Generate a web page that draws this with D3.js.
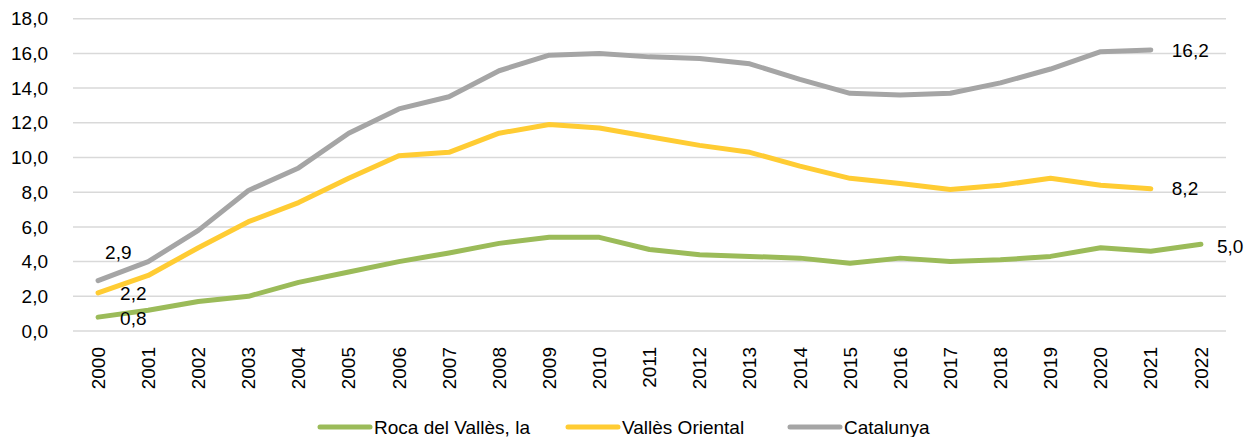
<!DOCTYPE html>
<html>
<head>
<meta charset="utf-8">
<script src="https://cdn.jsdelivr.net/npm/d3@7"></script>
<style>
  body { margin: 0; background: #fff; }
  text { font-family: "Liberation Sans", Arial, sans-serif; fill: #000; }
</style>
</head>
<body>
<svg id="chart" width="1247" height="437"></svg>
<script>
// data
const years = d3.range(2000, 2023).map(String);
const yTicks = [0, 2, 4, 6, 8, 10, 12, 14, 16, 18];
const roca = [0.8, 1.2, 1.7, 2.0, 2.8, 3.4, 4.0, 4.5, 5.05, 5.4, 5.4, 4.7, 4.4, 4.3, 4.2, 3.9, 4.2, 4.0, 4.1, 4.3, 4.8, 4.6, 5.0];
const valles = [2.2, 3.2, 4.8, 6.3, 7.4, 8.8, 10.1, 10.3, 11.4, 11.9, 11.7, 11.2, 10.7, 10.3, 9.5, 8.8, 8.5, 8.15, 8.4, 8.8, 8.4, 8.2];
const catalunya = [2.9, 4.0, 5.8, 8.1, 9.4, 11.4, 12.8, 13.5, 15.0, 15.9, 16.0, 15.8, 15.7, 15.4, 14.5, 13.7, 13.6, 13.7, 14.3, 15.1, 16.1, 16.2];
const seriesNames = ["Roca del Vallès, la", "Vallès Oriental", "Catalunya"];
const seriesColors = ["#9BBB59", "#FFCC33", "#A5A5A5"];

let series = [roca, valles, catalunya].map((vals, i) => ({
    name: seriesNames[i],
    color: seriesColors[i],
    values: vals.map((v, j) => ({ year: years[j], value: v }))
}));

let svg = d3.select("#chart"),
    margin = { top: 18.7, right: 21, bottom: 106, left: 73 },
    width = 1247 - margin.left - margin.right,
    height = 437 - margin.top - margin.bottom,
    fmt = v => d3.format(".1f")(v).replace(".", ",");

let x = d3.scaleBand().domain(years).range([margin.left, margin.left + width]).padding(0),
    y = d3.scaleLinear().domain([0, 18]).range([margin.top + height, margin.top]),
    cx = d => x(d) + x.bandwidth() / 2;

// gridlines
svg.append("g")
    .selectAll("line")
    .data(yTicks)
    .enter().append("line")
    .attr("x1", margin.left)
    .attr("x2", margin.left + width)
    .attr("y1", d => y(d))
    .attr("y2", d => y(d))
    .attr("stroke", "#D9D9D9")
    .attr("stroke-width", 1.5);

// y labels
svg.append("g")
    .selectAll("text")
    .data(yTicks)
    .enter().append("text")
    .attr("x", 48)
    .attr("y", d => y(d))
    .attr("dy", "0.35em")
    .attr("text-anchor", "end")
    .style("font-size", "19px")
    .text(d => fmt(d));

// x labels
svg.append("g")
    .selectAll("text")
    .data(years)
    .enter().append("text")
    .attr("transform", d => "translate(" + cx(d) + "," + 347 + ") rotate(-90)")
    .attr("dy", "0.35em")
    .attr("text-anchor", "end")
    .style("font-size", "19px")
    .text(d => d);

// lines
let line = d3.line().x(d => cx(d.year)).y(d => y(d.value));
svg.append("g")
    .selectAll("path")
    .data(series)
    .enter().append("path")
    .attr("d", d => line(d.values))
    .attr("fill", "none")
    .attr("stroke", d => d.color)
    .attr("stroke-width", 5)
    .attr("stroke-linejoin", "round")
    .attr("stroke-linecap", "round");

// data labels (first and last points)
let labels = [];
series.forEach((s, i) => {
    let first = s.values[0], last = s.values[s.values.length - 1];
    labels.push({ d: first, first: true, i: i });
    labels.push({ d: last, first: false, i: i });
});
// label offsets from the point: [dx, dy]
let firstOffsets = [[22, 1], [22, 1], [7, -28]],
    lastOffsets = [[16, 2], [21, 0], [21, 0]];
svg.append("g")
    .selectAll("text")
    .data(labels)
    .enter().append("text")
    .attr("x", l => cx(l.d.year) + (l.first ? firstOffsets[l.i][0] : lastOffsets[l.i][0]))
    .attr("y", l => y(l.d.value) + (l.first ? firstOffsets[l.i][1] : lastOffsets[l.i][1]))
    .attr("dy", "0.35em")
    .attr("text-anchor", "start")
    .style("font-size", "19px")
    .text(l => fmt(l.d.value));

// legend
let legendX = [320, 568, 790];
let leg = svg.append("g")
    .selectAll("g")
    .data(series)
    .enter().append("g")
    .attr("transform", (d, i) => "translate(" + legendX[i] + ",427)");
leg.append("line")
    .attr("x1", 0).attr("x2", 50)
    .attr("stroke", d => d.color)
    .attr("stroke-width", 5)
    .attr("stroke-linecap", "round");
leg.append("text")
    .attr("x", 54)
    .attr("dy", "0.35em")
    .style("font-size", "19px")
    .text(d => d.name);
</script>
</body>
</html>
